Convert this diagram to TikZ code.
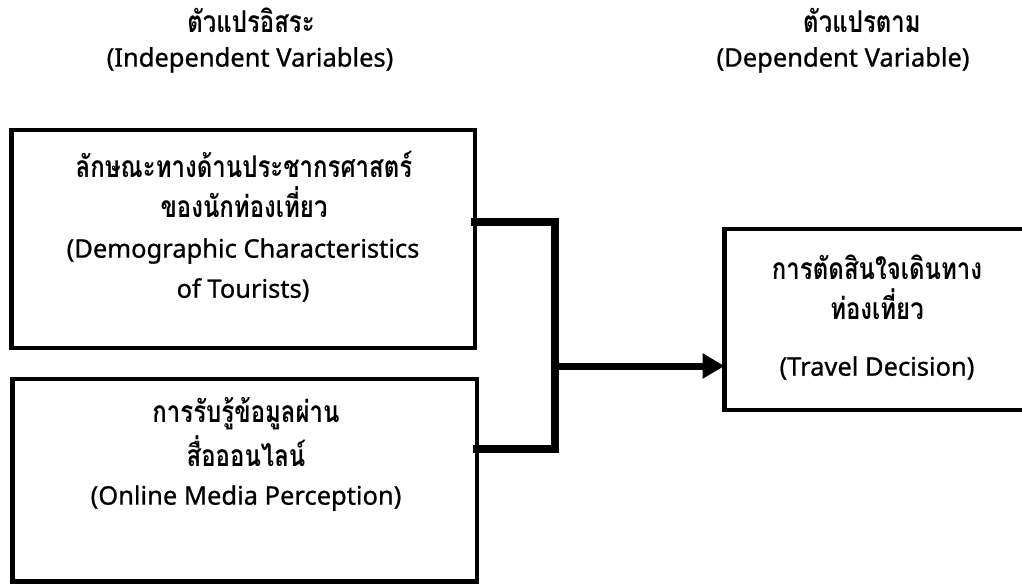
\documentclass[tikz,border=0pt]{standalone}
\usepackage{fontspec}
\newfontfamily\thaifont[Script=Thai,FakeStretch=0.8]{Loma}
\newfontfamily\latfont[FakeBold=0.8]{Noto Sans}
\usetikzlibrary{arrows.meta}
\begin{document}
\begin{tikzpicture}[x=1pt,y=-1pt,
  box/.style={draw=black,line width=4.5pt,rectangle,inner sep=0pt,outer sep=0pt},
  txt/.style={font=\thaifont\bfseries\fontsize{30}{34}\selectfont,inner sep=0pt,anchor=center},
  etxt/.style={font=\latfont\fontsize{25.5}{30}\selectfont,inner sep=0pt,anchor=center},
  conn/.style={line width=8pt,line cap=rect,line join=miter},
  arr/.style={line width=7pt,-{Triangle[length=22pt,width=24pt]}}]
\useasboundingbox (0,0) rectangle (1022,584);
% headings
\node[txt] (h1) at (251,20) {ตัวแปรอิสระ};
\node[etxt] (h2) at (250,60) {(Independent Variables)};
\node[txt] (h3) at (862,20) {ตัวแปรตาม};
\node[etxt] (h4) at (843,60) {(Dependent Variable)};
% boxes
\node[box,minimum width=463.5pt,minimum height=218pt] (box1) at (243.25,239) {};
\node[box,minimum width=464.5pt,minimum height=202.5pt] (box2) at (244.75,480.25) {};
\node[box,minimum width=310.5pt,minimum height=181pt] (box3) at (879.75,319.5) {};
% box texts
\node[txt] (b1a) at (244,164) {ลักษณะทางด้านประชากรศาสตร์};
\node[txt] (b1b) at (244,202) {ของนักท่องเที่ยว};
\node[etxt] (b1c) at (243,251) {(Demographic Characteristics};
\node[etxt] (b1d) at (243,290) {of Tourists)};
\node[txt] (b2a) at (246,414) {การรับรู้ข้อมูลผ่าน};
\node[txt] (b2b) at (246,451) {สื่อออนไลน์};
\node[etxt] (b2c) at (246,498) {(Online Media Perception)};
\node[txt] (b3a) at (877,267) {การตัดสินใจเดินทาง};
\node[txt] (b3b) at (877,304) {ท่องเที่ยว};
\node[etxt] (b3c) at (877,368) {(Travel Decision)};
% connectors
\coordinate (jt) at (554.5,222);
\coordinate (jb) at (554.5,449);
\coordinate (jm) at (554.5,366);
\draw[conn] (box1.east |- jt) -- (jt) -- (jb) -- (box2.east |- jb);
\draw[arr] (jm) -- (box3.west |- jm);
\end{tikzpicture}
\end{document}
